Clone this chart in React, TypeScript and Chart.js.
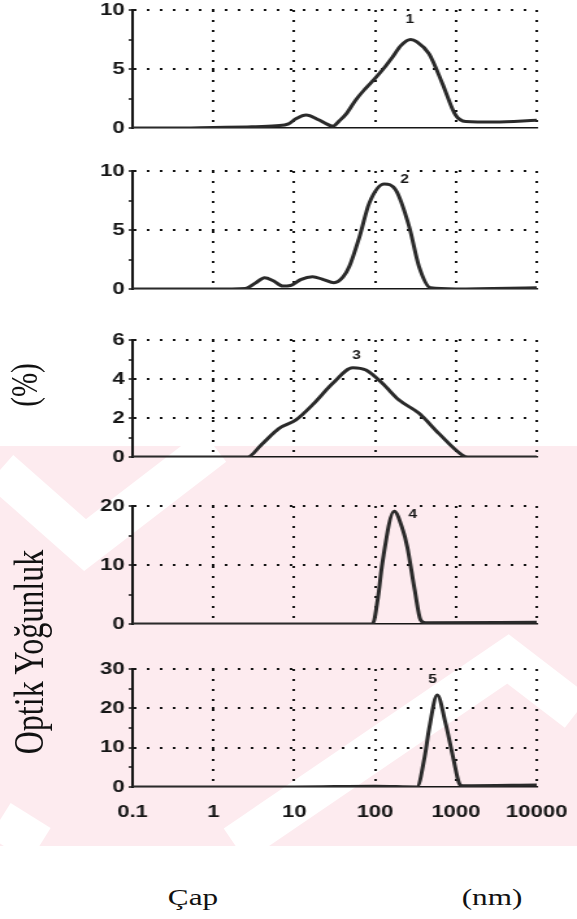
import React, { useEffect, useRef } from 'react';
import { Chart, registerables } from 'chart.js';

Chart.register(...registerables);

// ---- data ----
const X_TICKS = [0.1, 1, 10, 100, 1000, 10000];
const X_TICK_LABELS = ['0.1', '1', '10', '100', '1000', '10000'];

const SIZES_1 = [0.1, 0.3, 1, 3, 6, 8.5, 10.6, 14, 20, 25, 30, 36, 44, 58, 75, 100, 130, 164, 210, 275, 330, 464, 678, 990, 1320, 3000, 10000];
const VALUES_1 = [0, 0, 0.05, 0.1, 0.2, 0.35, 0.8, 1.1, 0.7, 0.35, 0.15, 0.6, 1.2, 2.4, 3.3, 4.2, 5.1, 6.0, 7.0, 7.5, 7.3, 6.3, 3.8, 1.1, 0.55, 0.5, 0.65];

const SIZES_2 = [0.1, 1, 2.5, 3.3, 4.3, 5.5, 7.2, 9, 12, 16.8, 23, 31, 40, 48, 64, 85, 130, 180, 264, 350, 485, 1000, 10000];
const VALUES_2 = [0, 0, 0.05, 0.5, 0.96, 0.7, 0.25, 0.3, 0.8, 1.04, 0.8, 0.53, 1.0, 1.9, 4.4, 7.3, 8.9, 8.4, 5.3, 1.9, 0.1, 0, 0.1];

const SIZES_3 = [0.1, 1, 2.65, 3.9, 6.5, 10.5, 16.8, 30, 53, 77, 123, 198, 350, 614, 1200, 1400, 10000];
const VALUES_3 = [0, 0, 0, 0.62, 1.47, 1.9, 2.67, 3.78, 4.58, 4.46, 3.78, 2.92, 2.24, 1.21, 0.1, 0, 0];

const SIZES_4 = [0.1, 1, 10, 93, 109, 123, 172, 221, 250, 309, 365, 420, 10000];
const VALUES_4 = [0, 0, 0, 0, 4.6, 10.3, 19.1, 15.9, 13.1, 5.8, 0.7, 0.2, 0.3];

const SIZES_5 = [0.1, 1, 10, 100, 330, 411, 464, 588, 745, 920, 1100, 1200, 10000];
const VALUES_5 = [0, 0, 0, 0.2, 0, 7.7, 14.5, 23.4, 16.2, 7.7, 0.9, 0.3, 0.5];

const SIZES = [SIZES_1, SIZES_2, SIZES_3, SIZES_4, SIZES_5];
const VALUES = [VALUES_1, VALUES_2, VALUES_3, VALUES_4, VALUES_5];

const Y_MAX = [10, 10, 6, 20, 30];
const Y_STEP = [2.5, 2.5, 1, 5, 5];
const Y_LABEL_STEP = [5, 5, 2, 10, 10];

const PEAK_LABELS = ['1', '2', '3', '4', '5'];
const PEAK_LABEL_X = [270, 232, 59, 292, 513];
const PEAK_LABEL_Y = [9.15, 9.3, 5.2, 18.5, 27.2];

// ---- layout ----
const PAGE_W = 577;
const STRETCH = 1.3;
const W = Math.round(PAGE_W / STRETCH);
const PANEL_TOPS = [10, 171, 340, 506, 669];
const PANEL_H = [118, 118, 117, 118, 118];
const PAD_TOP = 15;
const X_AXIS_H = 45;
const Y_AXIS_W = 102;
const PAD_RIGHT = W - Math.round(537 / STRETCH);
const INK = '#161616';

function Panel({ idx }: { idx: number }) {
  const ref = useRef<HTMLCanvasElement>(null);
  const showX = idx === 4;
  const h = PAD_TOP + PANEL_H[idx] + X_AXIS_H;

  useEffect(() => {
    const labelStep = Y_LABEL_STEP[idx];
    const isLabel = (v: number) => Math.abs(v / labelStep - Math.round(v / labelStep)) < 1e-6;
    const peakPlugin = {
      id: 'peakLabel',
      afterDatasetsDraw(chart: any) {
        const { ctx, scales } = chart;
        ctx.save();
        ctx.font = 'bold 12px "Liberation Sans", Arial, sans-serif';
        ctx.fillStyle = INK;
        ctx.textAlign = 'center';
        ctx.textBaseline = 'middle';
        ctx.fillText(
          PEAK_LABELS[idx],
          scales.x.getPixelForValue(PEAK_LABEL_X[idx]),
          scales.y.getPixelForValue(PEAK_LABEL_Y[idx])
        );
        ctx.restore();
      },
    };
    const chart = new Chart(ref.current!, {
      type: 'line',
      data: {
        datasets: [
          {
            data: SIZES[idx].map((x, i) => ({ x, y: VALUES[idx][i] })),
            borderColor: '#2a2a2a',
            borderWidth: 3,
            pointRadius: 0,
            cubicInterpolationMode: 'monotone',
            fill: false,
            borderCapStyle: 'round',
            borderJoinStyle: 'round',
          } as any,
        ],
      },
      options: {
        responsive: false,
        animation: false,
        devicePixelRatio: 1,
        layout: { padding: { top: PAD_TOP, right: PAD_RIGHT, left: 0, bottom: 0 } },
        plugins: { legend: { display: false }, tooltip: { enabled: false } },
        scales: {
          x: {
            type: 'logarithmic',
            min: 0.1,
            max: 10000,
            afterBuildTicks: (s: any) => {
              s.ticks = X_TICKS.map((v) => ({ value: v }));
            },
            afterFit: (s: any) => {
              s.height = X_AXIS_H;
              s.paddingLeft = 0;
              s.paddingRight = 0;
            },
            ticks: {
              display: showX,
              autoSkip: false,
              maxRotation: 0,
              padding: 15,
              color: INK,
              font: { family: '"Liberation Sans", Arial, sans-serif', weight: 'bold', size: 17 },
              callback: (_v: any, i: number) => X_TICK_LABELS[i],
            },
            grid: {
              color: (c: any) => (c.index === 0 ? 'transparent' : INK),
              lineWidth: 2,
              drawTicks: false,
            },
            border: { display: true, color: INK, width: 1.5, dash: [2, 8] },
          },
          y: {
            type: 'linear',
            min: 0,
            max: Y_MAX[idx],
            afterFit: (s: any) => {
              s.width = Y_AXIS_W;
              s.paddingTop = 0;
              s.paddingBottom = 0;
            },
            ticks: {
              stepSize: Y_STEP[idx],
              autoSkip: false,
              padding: 3,
              color: INK,
              font: { family: '"Liberation Sans", Arial, sans-serif', weight: 'bold', size: 17 },
              callback: (v: any) => (isLabel(Number(v)) ? String(v) : ''),
            },
            grid: {
              color: (c: any) =>
                c.tick && c.tick.value !== 0 && isLabel(c.tick.value) ? INK : 'transparent',
              lineWidth: 2,
              tickColor: INK,
              tickLength: 3,
              tickWidth: 1.5,
            },
            border: { display: true, color: INK, width: 2, dash: [2, 8] },
          },
        },
      } as any,
      plugins: [peakPlugin],
    });
    return () => chart.destroy();
  }, [idx]);

  return (
    <canvas
      ref={ref}
      width={W}
      height={h}
      style={{
        position: 'absolute',
        left: 0,
        top: PANEL_TOPS[idx] - PAD_TOP,
        width: PAGE_W,
        height: h,
        display: 'block',
      }}
    />
  );
}

const serif = '"Liberation Serif", "Times New Roman", serif';

function Label({ text, cx, cy, size, rotate }: { text: string; cx: number; cy: number; size: number; rotate?: boolean }) {
  return (
    <div
      style={{
        position: 'absolute',
        left: cx,
        top: cy,
        fontFamily: serif,
        fontSize: size,
        lineHeight: 1,
        whiteSpace: 'nowrap',
        color: '#111',
        transform: `translate(-50%, -50%) scaleX(${STRETCH}) ${rotate ? 'rotate(-90deg)' : ''}`,
      }}
    >
      {text}
    </div>
  );
}

// faint background watermark of the scanned page (decorative)
function Watermark() {
  const stripes = [
    'M0,470 L85,545 L214,446',
    'M235,845 L508,659 L577,712',
    'M0,820 L40,845',
  ];
  return (
    <svg
      width={PAGE_W}
      height={400}
      style={{ position: 'absolute', left: 0, top: 446 }}
      viewBox={`0 446 ${PAGE_W} 400`}
    >
      <rect x={0} y={446} width={PAGE_W} height={400} fill="#fdebef" />
      {stripes.map((d, i) => (
        <path key={i} d={d} stroke="#fff" strokeWidth={40} fill="none" strokeLinejoin="miter" />
      ))}
    </svg>
  );
}

export default function App() {
  return (
    <div
      style={{
        position: 'absolute',
        left: 0,
        top: 0,
        width: PAGE_W,
        height: 919,
        background: '#fff',
        overflow: 'hidden',
      }}
    >
      <Watermark />
      {[0, 1, 2, 3, 4].map((i) => (
        <Panel key={i} idx={i} />
      ))}
      <Label text="(%)" cx={25} cy={385} size={29} rotate />
      <Label text="Optik Yoğunluk" cx={29} cy={652} size={32} rotate />
      <Label text="Çap" cx={193} cy={897} size={24} />
      <Label text="(nm)" cx={492} cy={897} size={24} />
    </div>
  );
}
